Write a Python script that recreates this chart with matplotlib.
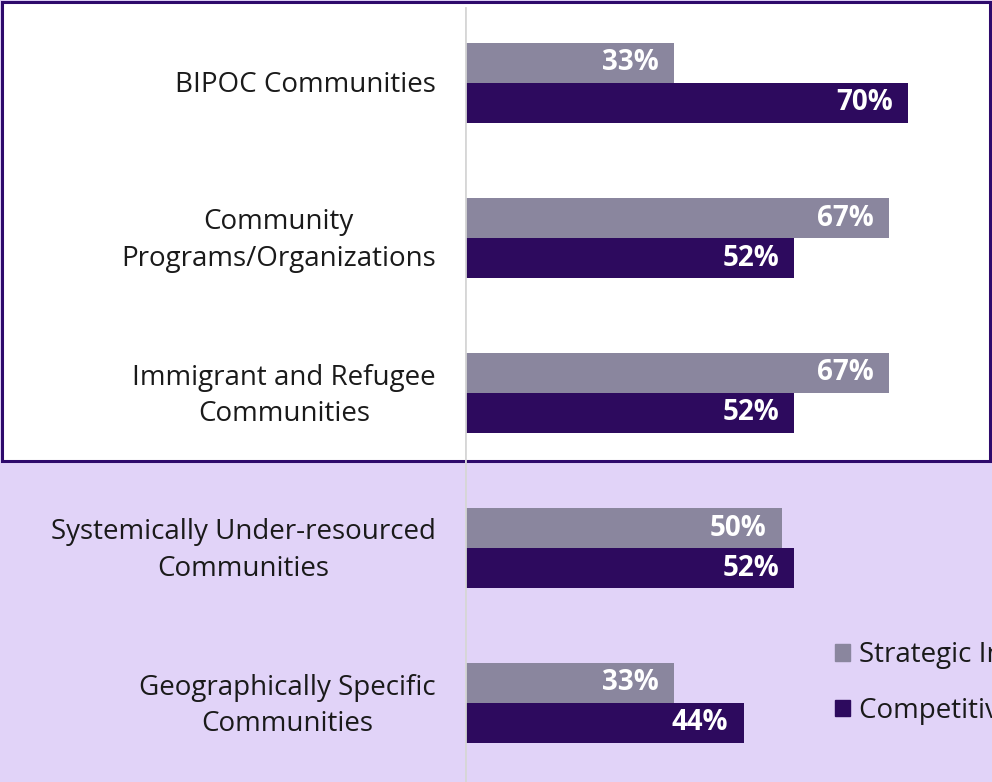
import numpy as np
import matplotlib.pyplot as plt
import matplotlib.transforms as mtransforms
from matplotlib.patches import Rectangle, Patch

categories = ["BIPOC Communities",
              "Community\nPrograms/Organizations",
              "Immigrant and Refugee\nCommunities",
              "Systemically Under-resourced\nCommunities",
              "Geographically Specific\nCommunities"]
strategic = [33, 67, 67, 50, 33]
competitive = [70, 52, 52, 52, 44]
series_names = ["Strategic Investment", "Competitive Grants"]

plt.rcParams['font.family'] = ['Open Sans', 'DejaVu Sans']

W, H = 992, 782
fig = plt.figure(figsize=(W / 100, H / 100), dpi=100)
fig.patch.set_facecolor('#e1d3f8')

# white box over the top three groups
box = Rectangle((2 / W, 1 - 461 / H), 988 / W, 459 / H, transform=fig.transFigure,
                facecolor='white', edgecolor='#2e0a6c', linewidth=2.2, zorder=-1)
fig.patches.append(box)

ax = fig.add_axes([465 / W, 0, (W - 465) / W, 1])
ax.set_facecolor('none')

gray = '#8a869e'
dark = '#2d0a5e'
y = np.arange(len(categories))
h = 40 / 155
b1 = ax.barh(y - h / 2, strategic, height=h, color=gray)
b2 = ax.barh(y + h / 2, competitive, height=h, color=dark)

for bars, vals in [(b1, strategic), (b2, competitive)]:
    for bar, v in zip(bars, vals):
        ax.text(v - 2.4, bar.get_y() + bar.get_height() / 2, f"{v}%",
                ha='right', va='center', color='white', fontsize=20,
                fontweight='bold')

ax.set_xlim(0, (W - 465) / 6.33)
ax.set_ylim((H - 83) / 155, -83 / 155)
ax.axvline(0, ymin=0, ymax=1 - 8 / H, color='#d6d6d6', linewidth=2)

ax.set_yticks(y)
ax.set_yticklabels(categories, fontsize=20, color='#1a1a1a', multialignment='center',
                   linespacing=1.4)
ax.tick_params(axis='y', length=0, pad=21)
ax.set_xticks([])
for s in ax.spines.values():
    s.set_visible(False)

# nudge two-line labels up a little
for lab in ax.get_yticklabels():
    dy = 5 if "\n" in lab.get_text() else 1.5
    shift = mtransforms.ScaledTranslation(0, dy / 100, fig.dpi_scale_trans)
    lab.set_transform(lab.get_transform() + shift)

handles = [Patch(color=gray), Patch(color=dark)]
fig.legend(handles, series_names, loc='upper left', bbox_to_anchor=(810 / W, 1 - 616 / H),
           frameon=False, fontsize=20, handlelength=0.55, handleheight=0.55,
           handletextpad=0.3, labelspacing=1.0, labelcolor='#1a1a1a')

fig.savefig('out.png', dpi=100, facecolor=fig.get_facecolor())
